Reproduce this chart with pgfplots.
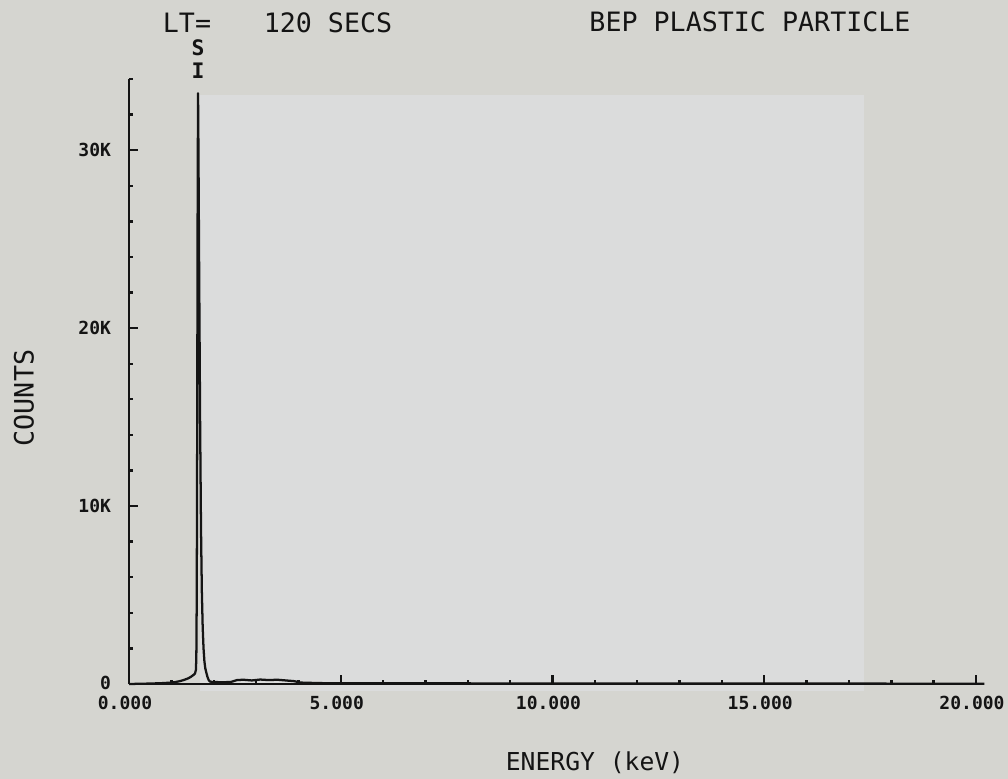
\documentclass[border=0pt]{standalone}
\usepackage{pgfplots}
\pgfplotsset{compat=1.18}
\usepackage{pgfplotstable}
\usepackage{fontspec}
\newfontfamily\plotfont{DejaVu Sans Mono}

\definecolor{paper}{RGB}{213,213,208}
\definecolor{paperlight}{RGB}{219,220,220}
\definecolor{ink}{RGB}{20,20,20}

% EDS spectrum: energy (keV) vs counts
\pgfplotstableread{
E      C
0.00   0
0.20   10
0.50   25
0.80   50
1.00   80
1.10   110
1.20   160
1.30   230
1.40   320
1.46   400
1.50   470
1.54   540
1.56   600
1.58   800
1.59   1500
1.60   5000
1.61   14000
1.62   26000
1.63   33200
1.64   30000
1.66   22000
1.68   14500
1.70   8800
1.72   5200
1.74   3200
1.76   2000
1.78   1300
1.80   900
1.82   700
1.85   420
1.88   230
1.91   140
1.95   120
2.00   110
2.20   100
2.40   110
2.55   220
2.70   240
2.90   200
3.10   250
3.30   220
3.50   240
3.70   200
3.90   160
4.05   80
4.50   50
5.00   40
6.00   40
7.00   35
8.00   35
9.00   30
10.00  30
11.00  30
12.00  30
13.00  25
14.00  25
15.00  25
16.00  25
17.00  25
18.00  20
19.00  20
20.00  20
20.20  20
}\spectrum

\begin{document}
\begin{tikzpicture}
\path[use as bounding box, fill=paper] (0,0) rectangle (756pt,584.25pt);
\fill[paperlight] (150pt,66pt) rectangle (648pt,513pt);

\begin{axis}[
  at={(96.75pt,71.25pt)}, anchor=south west,
  scale only axis,
  width=641.6pt, height=453.75pt,
  xmin=0, xmax=20.2, ymin=0, ymax=34000,
  enlargelimits=false, clip=false,
  axis x line=bottom, axis y line=left,
  axis line style={-, line width=1.9pt, ink},
  tick align=inside,
  major tick length=6.5pt, minor tick length=3.2pt,
  every tick/.style={line width=1.8pt, ink},
  xtick={0,5,10,15,20},
  xticklabels={0.000,5.000,10.000,15.000,20.000},
  minor xtick={1,2,3,4,6,7,8,9,11,12,13,14,16,17,18,19},
  ytick={0,10000,20000,30000},
  yticklabels={\raisebox{2pt}{0},10K,20K,30K},
  minor ytick={2000,4000,6000,8000,12000,14000,16000,18000,22000,24000,26000,28000,32000,34000},
  scaled ticks=false,
  ticklabel style={font=\plotfont\bfseries\fontsize{13.5}{14}\selectfont, text=ink},
  yticklabel style={anchor=east, xshift=-10pt},
  xticklabel style={yshift=-5.5pt, xshift=-3pt},
]
\addplot[ink, line width=1.7pt, line join=round] table[x=E, y=C] {\spectrum};
\node[font=\plotfont\bfseries\fontsize{16}{16}\selectfont, text=ink] at (axis cs:1.63,35770) {S};
\node[font=\plotfont\bfseries\fontsize{16}{16}\selectfont, text=ink] at (axis cs:1.63,34450) {I};
\end{axis}

\node[font=\plotfont\fontsize{20}{20}\selectfont, text=ink] at (140.25pt,567pt) {LT=};
\node[font=\plotfont\fontsize{20}{20}\selectfont, text=ink] at (246pt,567pt) {120 SECS};
\node[font=\plotfont\fontsize{20}{20}\selectfont, text=ink] at (562.5pt,568pt) {BEP PLASTIC PARTICLE};
\node[font=\plotfont\fontsize{20}{20}\selectfont, text=ink, rotate=90] at (18pt,285.75pt) {COUNTS};
\node[font=\plotfont\fontsize{18.5}{19}\selectfont, text=ink] at (446.25pt,12.4pt) {ENERGY (keV)};
\end{tikzpicture}
\end{document}
